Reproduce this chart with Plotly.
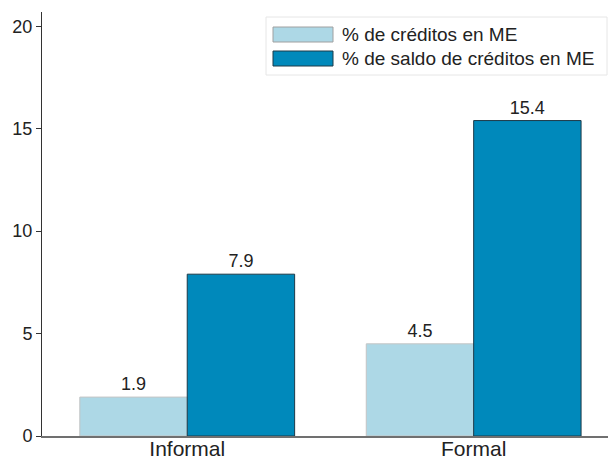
import plotly.graph_objects as go

# data
categories = ["Informal", "Formal"]
series_names = ["% de créditos en ME", "% de saldo de créditos en ME"]
pct_creditos = [1.9, 4.5]
pct_saldo = [7.9, 15.4]
y_ticks = [0, 5, 10, 15, 20]

W, H = 608, 459
L, R, T, B = 42, 0, 12, 23
pw, ph = W - L - R, H - T - B


def px(x):
    return (x - L) / pw


def py(y):
    return (H - B - y) / ph


light = "#ADD8E6"
dark = "#0089BB"

fig = go.Figure()
fig.add_trace(go.Bar(
    x=categories, y=pct_creditos, name=series_names[0],
    marker=dict(color=light, line=dict(color="#c4c4c4", width=1)),
    text=[f"{v:.1f}" for v in pct_creditos], textposition="outside",
    textfont=dict(size=18, color="#222"), cliponaxis=False,
))
fig.add_trace(go.Bar(
    x=categories, y=pct_saldo, name=series_names[1],
    marker=dict(color=dark, line=dict(color="#1d3a48", width=1)),
    text=[f"{v:.1f}" for v in pct_saldo], textposition="outside",
    textfont=dict(size=18, color="#222"), cliponaxis=False,
))

# manual legend with wide swatches
shapes = [dict(type="rect", xref="paper", yref="paper",
               x0=px(266), x1=px(607), y0=py(17), y1=py(75),
               line=dict(color="#e6e6e6", width=1), fillcolor="white")]
annotations = []
for i, (name, col, edge) in enumerate(zip(series_names, [light, dark], ["#a0a0a0", "#1d3a48"])):
    y0 = 27 + i * 24
    shapes.append(dict(type="rect", xref="paper", yref="paper",
                       x0=px(273), x1=px(333), y0=py(y0), y1=py(y0 + 15),
                       line=dict(color=edge, width=1), fillcolor=col))
    annotations.append(dict(xref="paper", yref="paper", x=px(340), y=py(y0 + 7.5),
                            text=name, showarrow=False, xanchor="left", yanchor="middle",
                            font=dict(size=19, color="#222")))

fig.update_layout(
    width=W, height=H,
    margin=dict(l=L, r=R, t=T, b=B),
    paper_bgcolor="white", plot_bgcolor="white",
    font=dict(family="Liberation Sans, Arial, sans-serif", color="#222"),
    barmode="group", bargap=0.25, bargroupgap=0,
    showlegend=False,
    shapes=shapes, annotations=annotations,
    xaxis=dict(range=[-0.507, 1.469], showline=True, linecolor="#707070", linewidth=2,
               showgrid=False, ticks="", tickfont=dict(size=21), automargin=False,
               ticklabelstandoff=-7),
    yaxis=dict(range=[0, 20.7], tickvals=y_ticks, showline=True, linecolor="#333",
               linewidth=1, showgrid=False, zeroline=False, ticks="outside",
               ticklen=5, tickcolor="#333", tickfont=dict(size=18), automargin=False),
)

fig.write_html("out.html", config={"displayModeBar": False},
               post_script="document.body.style.margin='0';")
